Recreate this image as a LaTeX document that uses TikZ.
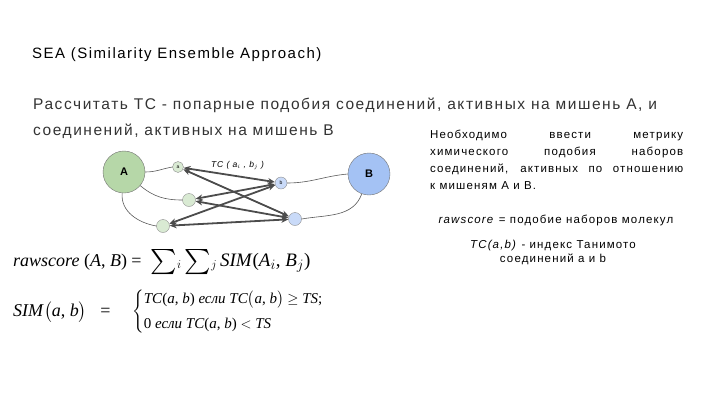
\documentclass[tikz,border=0pt]{standalone}
\usepackage{exscale}
\usepackage{fontspec}
\setmainfont{Liberation Sans}[LetterSpace=10]
\newfontfamily\serifrm{Liberation Serif}
\usetikzlibrary{arrows.meta, positioning}
\definecolor{targetGreen}{RGB}{182, 215, 168}
\definecolor{targetBlue}{RGB}{164, 194, 244}
\definecolor{molGreen}{RGB}{217, 234, 211}
\definecolor{molBlue}{RGB}{201, 218, 248}
\newcommand{\bigsum}{\raisebox{-2pt}{\scalebox{1.45}{$\sum$}}}
\tikzset{
    % мишени
    target/.style={circle, draw=black!55, thin, minimum size=42pt, inner sep=0pt,
        font=\fontsize{11}{11}\selectfont\bfseries},
    % молекулы
    mol/.style={circle, draw=black!45, thin, minimum size=13pt, inner sep=0pt,
        font=\fontsize{5}{5}\selectfont},
    % тонкие связи мишень -- молекула
    link/.style={draw=black!65, line width=0.6pt},
    % пары TC
    pair/.style={draw=black!70, line width=1.8pt,
        {Stealth[length=7pt, width=6pt]}-{Stealth[length=7pt, width=6pt]}},
    txt/.style={anchor=base west, inner sep=0pt, align=left}
}

\begin{document}
\begin{tikzpicture}[x=1pt, y=-1pt]
    \useasboundingbox (0,0) rectangle (720,405);

    %% заголовки
    \node (title) [txt, font=\fontsize{15}{18}\selectfont] at (32,58) {SEA (Similarity Ensemble Approach)};
    \node (task1) [txt, text=black!80, font=\fontsize{15.5}{26}\selectfont] at (33,109)
        {Рассчитать TC - попарные подобия соединений, активных на мишень A, и};
    \node (task2) [txt, text=black!80, font=\fontsize{15.5}{26}\selectfont] at (33,135)
        {соединений, активных на мишень B};

    %% схема
    \node (tA) [target, fill=targetGreen] at (124,172) {A};
    \node (tB) [target, fill=targetBlue] at (369,174) {B};
    \node (a1) [mol, fill=molGreen, minimum size=11pt] at (178,167) {a};
    \node (a2) [mol, fill=molGreen] at (189,200) {};
    \node (a3) [mol, fill=molGreen] at (163,226) {};
    \node (b1) [mol, fill=molBlue, minimum size=12pt] at (281,183) {b};
    \node (b2) [mol, fill=molBlue] at (295,219) {};
    \node (tcab) [txt, font=\fontsize{8.5}{9}\selectfont\itshape] at (211,167)
        {TC ( a$_i$ , b$_j$ )};

    \draw[link] (tA.east) to[out=0, in=190] (a1.west);
    \draw[link] (tA.-40) to[out=-40, in=180] (a2.west);
    \draw[link] (tA.-95) to[out=-95, in=170] (a3.west);
    \draw[link] (tB.west) to[out=185, in=0] (b1.east);
    \draw[link] (tB.-110) to[out=-110, in=10] (b2.east);

    % TC для всех пар
    \foreach \i in {a1, a2, a3}
        \foreach \j in {b1, b2}
            \draw[pair] (\i) -- (\j);

    %% пояснения
    \node (note) [anchor=north west, inner sep=0pt, text width=253pt, align=justify,
        font=\fontsize{11.5}{17}\selectfont] at (430,129.5)
        {Необходимо ввести метрику\linebreak химического подобия наборов\linebreak
         соединений, активных по отношению\linebreak к мишеням А и В.};
    \node (raw) [anchor=base, inner sep=0pt, font=\fontsize{11.5}{17}\selectfont] at (556,223)
        {\textit{rawscore} = подобие наборов молекул};
    \node (tcdef) [anchor=base, inner sep=0pt, align=center, font=\fontsize{11.5}{14}\selectfont] at (553,262)
        {\textit{TC(a,b)} - индекс Танимото\\ соединений а и b};

    %% формулы
    \node (rawf) [txt, font=\fontsize{18}{20}\selectfont\serifrm] at (13,266)
        {\textit{rawscore} (\textit{A}, \textit{B}) =\ \ \bigsum$_i$\,\bigsum$_j$\,{\fontsize{19}{20}\selectfont
         \textit{SIM}(\textit{A$_i$}, \textit{B$_j$})}};
    \node (simf) [txt, font=\fontsize{18}{20}\selectfont\serifrm] at (13,316)
        {\textit{SIM}$\bigl($\textit{a},\ \textit{b}$\bigr)$ \ \ =};
    \node (simcases) [anchor=west, inner sep=0pt, font=\fontsize{15}{20}\selectfont\serifrm] at (132,312)
        {$\left\{\begin{tabular}{@{}l@{}}
            \textit{TC}(\textit{a}, \textit{b}) \textit{если} \textit{TC}$\bigl($\textit{a}, \textit{b}$\bigr)$ $\geq$ \textit{TS};\\[5pt]
            0 \textit{если} \textit{TC}(\textit{a}, \textit{b}) $<$ \textit{TS}
         \end{tabular}\right.$};
\end{tikzpicture}
\end{document}
